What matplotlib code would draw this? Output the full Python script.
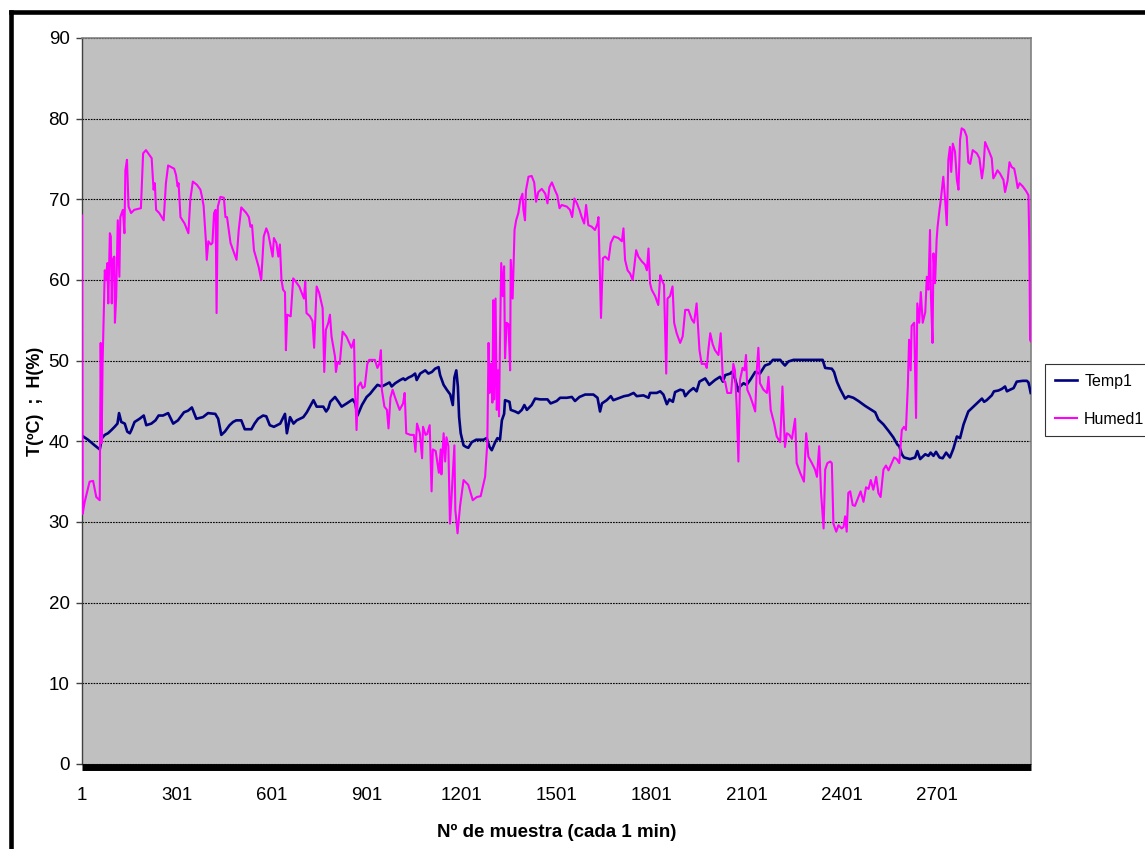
import matplotlib
matplotlib.use("Agg")
import matplotlib.pyplot as plt
from matplotlib.lines import Line2D

plt.rcParams['font.family'] = ['Liberation Sans', 'DejaVu Sans']

# sample number / value pairs
humX = [1, 3, 9, 25, 36, 46, 57, 60, 63, 66, 73, 76, 81, 84, 89, 92, 95, 98, 103, 105,
        109, 114, 119, 122, 130, 135, 138, 143, 148, 156, 166, 187, 194, 203, 221, 227, 231, 235, 245, 259,
        266, 273, 292, 298, 303, 306, 312, 325, 337, 343, 351, 364, 375, 380, 385, 392, 395, 400, 408, 413,
        418, 423, 426, 430, 438, 449, 454, 459, 470, 489, 496, 504, 520, 528, 533, 538, 544, 559, 567, 575,
        583, 589, 603, 607, 615, 621, 626, 631, 636, 642, 645, 649, 660, 668, 676, 687, 694, 702, 706, 710,
        721, 729, 734, 742, 750, 761, 766, 771, 779, 784, 789, 800, 803, 808, 815, 824, 836, 852, 860, 863,
        868, 873, 881, 887, 894, 902, 908, 926, 934, 940, 945, 948, 956, 964, 969, 975, 982, 990, 1004, 1015,
        1020, 1025, 1038, 1049, 1054, 1059, 1068, 1075, 1078, 1086, 1091, 1099, 1105, 1109, 1118, 1128, 1134, 1136, 1143, 1148,
        1152, 1158, 1163, 1168, 1177, 1180, 1187, 1195, 1206, 1221, 1235, 1248, 1260, 1274, 1281, 1285, 1288, 1292, 1297, 1300,
        1303, 1307, 1311, 1315, 1318, 1321, 1325, 1330, 1334, 1337, 1342, 1348, 1353, 1355, 1361, 1367, 1372, 1379, 1385, 1392,
        1395, 1400, 1403, 1411, 1421, 1429, 1435, 1442, 1453, 1464, 1471, 1477, 1485, 1495, 1502, 1509, 1516, 1532, 1542, 1549,
        1556, 1564, 1572, 1579, 1587, 1593, 1600, 1611, 1621, 1629, 1632, 1637, 1640, 1646, 1653, 1664, 1671, 1681, 1695, 1706,
        1711, 1716, 1724, 1732, 1740, 1745, 1751, 1758, 1769, 1779, 1785, 1790, 1795, 1800, 1811, 1821, 1827, 1832, 1839, 1846,
        1850, 1858, 1866, 1871, 1879, 1890, 1898, 1906, 1916, 1927, 1934, 1942, 1951, 1958, 1969, 1974, 1979, 1985, 1993, 2000,
        2011, 2018, 2025, 2032, 2039, 2051, 2058, 2063, 2069, 2074, 2079, 2087, 2093, 2098, 2102, 2111, 2119, 2127, 2132, 2137,
        2142, 2153, 2164, 2169, 2176, 2187, 2195, 2206, 2213, 2221, 2227, 2235, 2243, 2253, 2258, 2269, 2281, 2288, 2295, 2306,
        2316, 2322, 2329, 2335, 2343, 2348, 2355, 2364, 2369, 2374, 2383, 2390, 2400, 2406, 2411, 2416, 2421, 2427, 2435, 2442,
        2453, 2460, 2469, 2477, 2485, 2492, 2500, 2509, 2516, 2523, 2532, 2540, 2548, 2558, 2566, 2574, 2582, 2590, 2597, 2603,
        2609, 2613, 2618, 2621, 2629, 2635, 2639, 2645, 2650, 2656, 2664, 2669, 2674, 2679, 2682, 2687, 2690, 2695, 2700, 2703,
        2709, 2713, 2721, 2727, 2732, 2737, 2742, 2746, 2751, 2758, 2764, 2769, 2774, 2779, 2787, 2795, 2800, 2806, 2814, 2827,
        2835, 2843, 2848, 2853, 2864, 2874, 2879, 2885, 2892, 2900, 2911, 2916, 2924, 2930, 2937, 2945, 2951, 2956, 2962, 2972,
        2983, 2990, 2993, 2995, 2997]
humY = [68, 31, 32.4, 35.0, 35.1, 33.1, 32.7, 52.2, 39.8, 49.7, 61.2, 60, 62.1, 57.1, 65.8, 65.4, 57.1, 62.5, 62.9, 54.7,
        57.9, 67.4, 60.4, 67.8, 68.7, 65.8, 73.6, 74.9, 69.1, 68.3, 68.7, 68.9, 75.7, 76.1, 75.1, 71.2, 72.0, 68.7, 68.3, 67.4,
        72.0, 74.2, 73.8, 73.0, 71.6, 72.0, 67.8, 67.0, 65.8, 70.0, 72.2, 71.8, 71.2, 70.3, 69.2, 65.0, 62.5, 64.8, 64.4, 64.6,
        68.3, 68.7, 55.9, 69.1, 70.3, 70.2, 67.8, 67.8, 64.6, 62.5, 66.2, 69.0, 68.3, 67.8, 66.6, 66.8, 63.7, 61.6, 60.0, 65.4,
        66.4, 65.8, 62.9, 65.2, 64.6, 62.9, 64.4, 60.0, 58.8, 58.5, 51.3, 55.7, 55.5, 60.2, 59.8, 59.2, 58.5, 57.7, 59.8, 55.9,
        55.5, 54.9, 51.6, 59.2, 58.4, 56.5, 48.6, 53.8, 54.7, 55.7, 53.0, 50.5, 48.6, 49.8, 49.6, 53.6, 53.0, 51.6, 52.6, 46.8,
        41.4, 46.8, 47.3, 46.6, 46.8, 49.6, 50.1, 50.1, 49.1, 49.6, 51.3, 46.4, 44.3, 43.9, 41.6, 45.4, 46.4, 45.4, 43.9, 44.7,
        46.0, 41.0, 40.8, 40.8, 38.7, 42.2, 41.0, 37.9, 41.8, 40.8, 40.9, 42.0, 33.8, 39.0, 38.8, 36.1, 39.0, 35.9, 41.0, 37.5,
        40.5, 39.4, 29.8, 33.1, 39.5, 31.5, 28.6, 32.0, 35.2, 34.6, 32.7, 33.1, 33.2, 35.6, 39.8, 52.2, 46.0, 49.6, 44.8, 57.5,
        45.2, 57.7, 43.9, 48.8, 43.1, 52.2, 62.1, 58.0, 61.7, 50.3, 54.7, 54.5, 48.8, 62.5, 57.7, 66.2, 67.4, 68.3, 69.9, 70.7,
        68.7, 67.4, 71.1, 72.8, 72.9, 72.1, 69.7, 70.9, 71.3, 70.7, 69.5, 71.5, 72.1, 71.1, 70.5, 68.9, 69.3, 69.1, 68.7, 67.8,
        70.1, 69.5, 68.7, 67.8, 67.0, 69.3, 66.8, 66.6, 66.2, 67.0, 67.8, 60.0, 55.3, 62.7, 62.9, 62.5, 64.6, 65.4, 65.2, 64.8,
        66.4, 62.5, 61.2, 60.8, 60.0, 61.6, 63.7, 62.9, 62.3, 61.9, 61.2, 63.9, 59.6, 58.8, 58.0, 56.9, 60.6, 60.0, 59.4, 48.4,
        57.7, 58.0, 59.2, 54.7, 53.4, 52.2, 53.0, 56.3, 56.3, 55.1, 54.7, 57.1, 51.3, 49.6, 49.6, 49.1, 51.3, 53.4, 52.0, 51.3,
        50.7, 53.4, 47.6, 47.4, 46.0, 46.0, 49.6, 48.8, 43.9, 37.5, 47.6, 49.1, 48.8, 50.7, 46.4, 45.6, 44.7, 43.7, 48.8, 51.6,
        47.2, 46.4, 46.0, 48.0, 43.9, 42.2, 40.6, 39.9, 46.8, 39.3, 41.0, 40.8, 40.3, 42.8, 37.3, 36.1, 35.0, 41.0, 38.1, 37.3,
        36.5, 35.6, 39.4, 33.6, 29.2, 36.5, 37.3, 37.5, 37.3, 29.8, 28.8, 29.6, 29.2, 29.4, 30.7, 28.8, 33.6, 33.8, 32.1, 32.0,
        33.1, 33.8, 32.5, 34.3, 34.1, 35.2, 34.0, 35.6, 33.6, 33.1, 36.5, 37.0, 36.4, 37.3, 38.0, 37.8, 37.3, 41.4, 41.8, 41.4,
        46.8, 52.6, 48.8, 54.3, 54.7, 42.9, 57.1, 54.7, 58.5, 54.7, 56.0, 60.4, 58.8, 66.2, 58.0, 52.2, 63.3, 59.6, 65.0, 66.6,
        68.7, 69.9, 72.8, 69.9, 66.8, 74.9, 76.5, 73.4, 76.9, 75.9, 72.4, 71.2, 77.4, 78.8, 78.6, 77.8, 74.6, 74.4, 76.1, 75.7,
        75.1, 72.6, 74.0, 77.1, 76.1, 75.1, 72.6, 73.0, 73.6, 73.2, 72.4, 70.9, 72.3, 74.6, 74.0, 73.8, 72.6, 71.4, 72.0, 71.6,
        71.0, 70.5, 64.1, 52.6, 52.4]

tempX = [1, 20, 41, 57, 64, 73, 83, 94, 104, 113, 118, 125, 136, 144, 152, 157, 167, 183, 196, 204,
         220, 233, 243, 257, 273, 289, 304, 323, 336, 348, 362, 383, 399, 422, 431, 441, 452, 467, 478, 488,
         504, 515, 536, 546, 557, 573, 583, 594, 607, 627, 642, 648, 658, 669, 679, 700, 711, 732, 742, 763,
         772, 779, 785, 800, 811, 821, 837, 856, 864, 871, 885, 900, 911, 921, 934, 948, 958, 972, 979, 990,
         1006, 1016, 1021, 1032, 1043, 1053, 1058, 1069, 1085, 1095, 1106, 1116, 1127, 1132, 1143, 1153, 1164, 1172, 1177, 1183,
         1188, 1192, 1197, 1206, 1214, 1221, 1232, 1246, 1269, 1279, 1288, 1295, 1306, 1313, 1321, 1327, 1334, 1337, 1351, 1355,
         1369, 1379, 1390, 1398, 1406, 1421, 1432, 1448, 1471, 1481, 1500, 1511, 1532, 1548, 1558, 1572, 1590, 1616, 1629, 1637,
         1643, 1658, 1671, 1679, 1700, 1713, 1727, 1743, 1753, 1774, 1790, 1795, 1816, 1827, 1837, 1848, 1856, 1867, 1874, 1890,
         1900, 1906, 1919, 1932, 1942, 1951, 1969, 1982, 2000, 2016, 2025, 2032, 2048, 2053, 2063, 2074, 2079, 2090, 2100, 2111,
         2127, 2142, 2158, 2172, 2183, 2206, 2214, 2221, 2232, 2248, 2340, 2348, 2369, 2376, 2385, 2395, 2411, 2421, 2437, 2453,
         2474, 2490, 2506, 2516, 2532, 2548, 2563, 2576, 2582, 2590, 2597, 2616, 2632, 2639, 2648, 2664, 2674, 2681, 2690, 2698,
         2709, 2719, 2730, 2742, 2753, 2764, 2774, 2785, 2800, 2816, 2832, 2843, 2850, 2858, 2874, 2881, 2895, 2906, 2916, 2922,
         2932, 2943, 2953, 2972, 2985, 2990, 2997]
tempY = [40.7, 40.2, 39.5, 39.0, 40.4, 40.8, 41.0, 41.4, 41.8, 42.2, 43.5, 42.4, 42.2, 41.2, 41.0, 41.4, 42.4, 42.8, 43.2, 42.0,
         42.2, 42.6, 43.2, 43.2, 43.5, 42.2, 42.6, 43.6, 43.8, 44.2, 42.8, 43.0, 43.5, 43.4, 42.8, 40.8, 41.2, 42.0, 42.4, 42.6,
         42.6, 41.5, 41.5, 42.2, 42.8, 43.2, 43.1, 42.0, 41.8, 42.2, 43.4, 41.0, 43.0, 42.2, 42.6, 43.0, 43.6, 45.1, 44.3, 44.3,
         43.7, 44.1, 44.9, 45.5, 44.9, 44.3, 44.7, 45.2, 44.7, 43.2, 44.5, 45.5, 45.9, 46.4, 47.0, 46.8, 47.0, 47.3, 46.8, 47.2,
         47.6, 47.8, 47.6, 47.9, 48.1, 48.4, 47.6, 48.4, 48.8, 48.4, 48.6, 49.0, 49.2, 48.2, 47.0, 46.4, 45.8, 44.5, 47.9, 48.8,
         46.8, 43.0, 41.0, 39.5, 39.3, 39.2, 39.9, 40.2, 40.2, 40.4, 39.3, 38.9, 39.9, 40.4, 40.2, 42.6, 43.4, 45.1, 44.9, 43.9,
         43.7, 43.5, 43.9, 44.5, 43.9, 44.5, 45.3, 45.2, 45.2, 44.7, 45.0, 45.4, 45.4, 45.5, 45.0, 45.5, 45.8, 45.8, 45.4, 43.7,
         44.7, 45.1, 45.6, 45.1, 45.4, 45.6, 45.7, 46.0, 45.6, 45.7, 45.4, 46.0, 46.0, 46.2, 45.8, 44.6, 45.2, 44.9, 46.1, 46.4,
         46.3, 45.6, 46.2, 46.6, 46.2, 47.4, 47.8, 47.0, 47.6, 48.0, 47.4, 48.2, 48.4, 48.6, 47.8, 46.2, 46.8, 47.2, 47.0, 47.6,
         48.6, 48.4, 49.4, 49.6, 50.1, 50.1, 49.7, 49.4, 49.9, 50.1, 50.1, 49.1, 49.0, 48.6, 47.4, 46.5, 45.3, 45.6, 45.4, 45.0,
         44.4, 44.0, 43.6, 42.7, 42.1, 41.3, 40.5, 39.6, 39.4, 38.4, 38.0, 37.8, 38.0, 38.8, 37.8, 38.4, 38.2, 38.6, 38.2, 38.7,
         38.0, 37.9, 38.6, 38.0, 39.1, 40.6, 40.4, 42.1, 43.7, 44.3, 44.9, 45.3, 44.9, 45.1, 45.7, 46.2, 46.3, 46.5, 46.8, 46.2,
         46.4, 46.6, 47.4, 47.5, 47.5, 47.3, 46.0]

xTicks = [1, 301, 601, 901, 1201, 1501, 1801, 2101, 2401, 2701]
yTicks = [0, 10, 20, 30, 40, 50, 60, 70, 80, 90]

fig = plt.figure(figsize=(11.45, 8.49), dpi=100)
ax = fig.add_axes([82 / 1145, 1 - 764 / 849, (1031 - 82) / 1145, (764 - 38) / 849])
ax.set_facecolor("#C0C0C0")

ax.plot(tempX, tempY, color="#000080", linewidth=1.9, label="Temp1", zorder=3)
ax.plot(humX, humY, color="#FF00FF", linewidth=1.5, label="Humed1", zorder=3)

ax.set_xlim(1, 2998)
ax.set_ylim(0, 90)
ax.set_xticks(xTicks)
ax.set_xticklabels([str(t) for t in xTicks])
ax.set_yticks(yTicks)
ax.yaxis.grid(True, color="black", linestyle=(0, (1.5, 1)), linewidth=0.8)
ax.set_axisbelow(True)

ax.tick_params(axis="x", length=0, pad=14, labelsize=13.5)
ax.tick_params(axis="y", length=4, width=1, color="#404040", pad=5, labelsize=13.5)

for side in ["top", "right"]:
    ax.spines[side].set_color("#808080")
    ax.spines[side].set_linewidth(1.2)
ax.spines["left"].set_color("#404040")
ax.spines["left"].set_linewidth(1)
ax.spines["bottom"].set_color("black")
ax.spines["bottom"].set_linewidth(5)
ax.spines["bottom"].set_capstyle("butt")
ax.spines["bottom"].set_position(("outward", 2.5))

ax.set_ylabel("T(ºC)  ;  H(%)", fontsize=13, fontweight="bold")
ax.yaxis.set_label_coords(-0.0495, 0.5)
ax.set_xlabel("Nº de muestra (cada 1 min)", fontsize=13.5, fontweight="bold")
ax.xaxis.set_label_coords(0.5, -0.0937)
ax.xaxis.label.set_va("center")
ax.yaxis.label.set_va("center")

leg = ax.legend(loc="center left", bbox_to_anchor=(1.0148, 0.501), fontsize=11.5,
                frameon=True, fancybox=False, edgecolor="black", handlelength=1.4,
                handletextpad=0.45, borderpad=0.6, labelspacing=1.45, borderaxespad=0)
leg.get_frame().set_linewidth(0.8)

# outer chart border (top and left edges show in the picture)
fig.add_artist(Line2D([10.8 / 1145, 1.0], [1 - 11.5 / 849, 1 - 11.5 / 849],
                      transform=fig.transFigure, color="black", linewidth=3.3))
fig.add_artist(Line2D([10.8 / 1145, 10.8 / 1145], [0.0, 1 - 11.5 / 849],
                      transform=fig.transFigure, color="black", linewidth=3.3))

fig.savefig("out.png", dpi=100)
